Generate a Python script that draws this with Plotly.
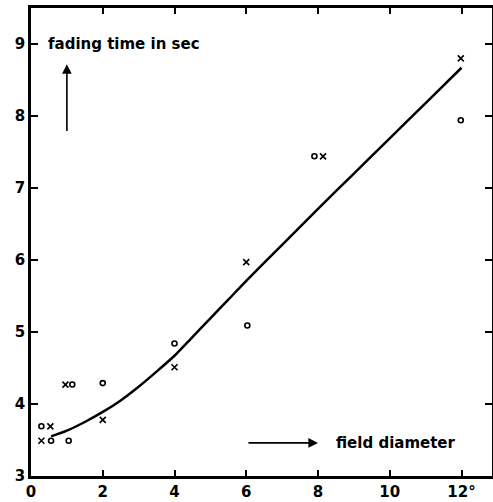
import plotly.graph_objects as go

# Data
circle_x = [0.29, 0.56, 1.05, 1.15, 2.0, 4.0, 6.03, 7.9, 11.98]
circle_y = [3.69, 3.49, 3.49, 4.27, 4.29, 4.84, 5.09, 7.44, 7.94]

cross_x = [0.29, 0.54, 0.96, 2.0, 4.0, 6.0, 8.14, 11.98]
cross_y = [3.49, 3.69, 4.27, 3.78, 4.51, 5.97, 7.44, 8.80]

curve_x = [0.56, 1.0, 1.5, 2.0, 2.5, 3.0, 3.5, 4.0, 4.5, 5.0, 5.5, 6.0, 7.0, 8.0, 9.0, 10.0, 11.0, 12.0]
curve_y = [3.55, 3.63, 3.75, 3.89, 4.05, 4.24, 4.45, 4.67, 4.93, 5.19, 5.45, 5.71, 6.21, 6.71, 7.20, 7.69, 8.18, 8.67]

x_tickvals = [0, 2, 4, 6, 8, 10, 12]
x_ticktext = ["0", "2", "4", "6", "8", "10", "12°"]
y_tickvals = [3, 4, 5, 6, 7, 8, 9]
y_ticktext = ["3", "4", "5", "6", "7", "8", "9"]

FONT = "DejaVu Sans"

fig = go.Figure()
fig.add_trace(go.Scatter(x=curve_x, y=curve_y, mode="lines",
                         line=dict(color="black", width=2.5, shape="spline", smoothing=0.6),
                         showlegend=False, hoverinfo="skip"))
fig.add_trace(go.Scatter(x=circle_x, y=circle_y, mode="markers",
                         marker=dict(symbol="circle-open", size=5, color="black",
                                     line=dict(width=1.6, color="black")),
                         showlegend=False))
fig.add_trace(go.Scatter(x=cross_x, y=cross_y, mode="markers",
                         marker=dict(symbol="x-thin", size=6, color="black",
                                     line=dict(width=1.6, color="black")),
                         showlegend=False))

fig.add_annotation(x=0.43, y=9.0, xref="x", yref="y", text="fading time in sec",
                   showarrow=False, xanchor="left", yanchor="middle",
                   font=dict(family=FONT, size=15, color="black", weight="bold"))
fig.add_annotation(x=1.0, y=8.72, ax=1.0, ay=7.77, xref="x", yref="y", axref="x", ayref="y",
                   text="", showarrow=True, arrowhead=2, arrowsize=1.2, arrowwidth=1.6,
                   arrowcolor="black")
fig.add_annotation(x=8.0, y=3.46, ax=6.02, ay=3.46, xref="x", yref="y", axref="x", ayref="y",
                   text="", showarrow=True, arrowhead=2, arrowsize=1.2, arrowwidth=1.6,
                   arrowcolor="black")
fig.add_annotation(x=8.45, y=3.46, xref="x", yref="y", text="field diameter",
                   showarrow=False, xanchor="left", yanchor="middle",
                   font=dict(family=FONT, size=15, color="black", weight="bold"))

fig.update_xaxes(range=[0, 12.85], tickvals=x_tickvals, ticktext=x_ticktext,
                 ticks="inside", ticklen=6, tickwidth=2, tickcolor="black",
                 showline=True, linecolor="black", linewidth=2.5, mirror="ticks",
                 showgrid=False, zeroline=False, automargin=False,
                 tickfont=dict(family=FONT, size=15, color="black", weight="bold"))
fig.update_yaxes(range=[3, 9.5], tickvals=y_tickvals, ticktext=y_ticktext,
                 ticks="inside", ticklen=7, tickwidth=2, tickcolor="black",
                 showline=True, linecolor="black", linewidth=2.5, mirror="ticks",
                 showgrid=False, zeroline=False, automargin=False,
                 tickfont=dict(family=FONT, size=15, color="black", weight="bold"))

fig.update_layout(width=493, height=502, margin=dict(l=31, r=1, t=8, b=26, autoexpand=False),
                  plot_bgcolor="white", paper_bgcolor="white", hovermode=False)

fig.write_html("out.html", config={"displayModeBar": False},
               post_script="document.body.style.margin='0';document.body.style.overflow='hidden';")
